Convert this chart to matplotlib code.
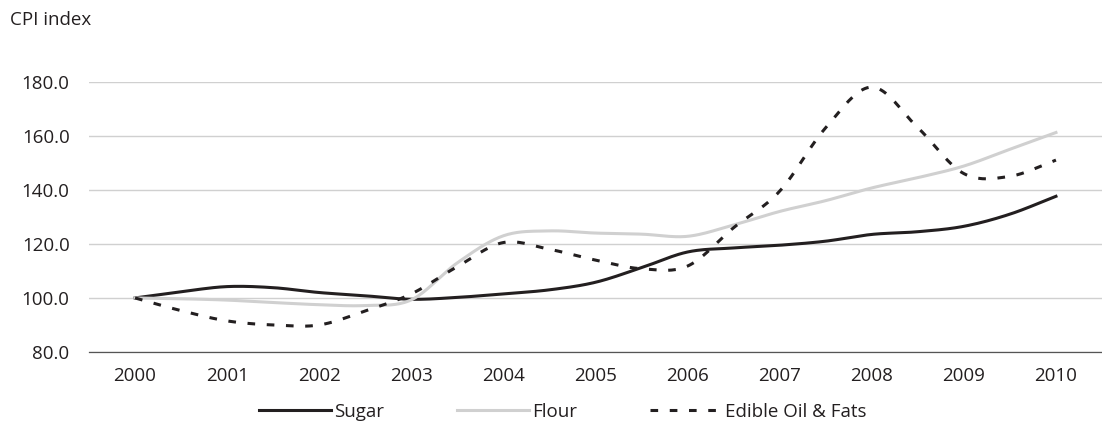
import matplotlib.pyplot as plt
import numpy as np

# half-yearly CPI readings, 2000 = 100
periods = np.arange(0, 21) / 2.0
years = [str(y) for y in range(2000, 2011)]

sugar = [100, 102.3, 104.2, 103.8, 102.0, 100.8, 99.5, 100.2, 101.5, 103.0, 105.8,
         111.2, 117.0, 118.5, 119.5, 121.0, 123.5, 124.5, 126.5, 131.0, 137.6]
flour = [100, 99.7, 99.2, 98.3, 97.5, 97.2, 99.3, 113.0, 123.0, 124.8, 124.0,
         123.6, 122.8, 127.0, 132.0, 136.0, 140.7, 144.5, 148.8, 155.0, 161.2]
oil = [100, 95.3, 91.5, 90.0, 90.0, 95.2, 101.5, 111.6, 120.5, 118.0, 114.0,
       110.8, 111.8, 126.0, 139.5, 163.0, 178.0, 163.0, 146.0, 145.0, 151.0]


def smooth(x, y, n=20):
    # catmull-rom curve through the points, like excel's smoothed lines
    x = np.asarray(x, float)
    y = np.asarray(y, float)
    px = np.concatenate([[2 * x[0] - x[1]], x, [2 * x[-1] - x[-2]]])
    py = np.concatenate([[2 * y[0] - y[1]], y, [2 * y[-1] - y[-2]]])
    t = np.linspace(0, 1, n, endpoint=False)
    xs, ys = [], []
    for i in range(1, len(px) - 2):
        for p, out in ((px, xs), (py, ys)):
            p0, p1, p2, p3 = p[i - 1], p[i], p[i + 1], p[i + 2]
            out.extend(0.5 * (2 * p1 + (-p0 + p2) * t + (2 * p0 - 5 * p1 + 4 * p2 - p3) * t ** 2
                              + (-p0 + 3 * p1 - 3 * p2 + p3) * t ** 3))
    xs.append(x[-1])
    ys.append(y[-1])
    return xs, ys


plt.rcParams['font.family'] = ['Open Sans', 'DejaVu Sans']
fs = 13.5
fig = plt.figure(figsize=(11.02, 4.22), dpi=100)
ax = fig.add_axes([89 / 1102, 1 - 352 / 422, 1 - 89 / 1102, (352 - 81.7) / 422])

dark = '#231f20'
ax.plot(*smooth(periods, sugar), color=dark, lw=2.2, label='Sugar', clip_on=False)
ax.plot(*smooth(periods, flour), color='#d0d0d0', lw=2.2, label='Flour', clip_on=False)
ax.plot(*smooth(periods, oil), color=dark, lw=2.2, dashes=(2.5, 3.8),
        label='Edible Oil & Fats', clip_on=False)

ax.set_xlim(-0.5, 10.5)
ax.set_ylim(80, 180)
ax.set_yticks(range(80, 181, 20))
ax.set_yticklabels(['%.1f' % v for v in range(80, 181, 20)])
ax.set_xticks(range(11))
ax.set_xticklabels(years)
ax.grid(axis='y', color='#d0d0d0', lw=1)
ax.set_axisbelow(True)
for s in ['top', 'right', 'left']:
    ax.spines[s].set_visible(False)
ax.spines['bottom'].set_color('#555555')
ax.spines['bottom'].set_linewidth(0.9)
ax.tick_params(axis='both', length=0, labelsize=fs, colors='#231f20')
ax.tick_params(axis='y', pad=14)
ax.tick_params(axis='x', pad=11)

fig.text(0.009, 0.952, 'CPI index', fontsize=fs, color='#231f20', va='center')

fig.legend(loc='center', bbox_to_anchor=(0.5104, 0.024), ncol=3, frameon=False,
           fontsize=fs, handlelength=3.85, handletextpad=0.15, columnspacing=3.9,
           labelcolor='#231f20')

fig.savefig('out.png', dpi=100)
